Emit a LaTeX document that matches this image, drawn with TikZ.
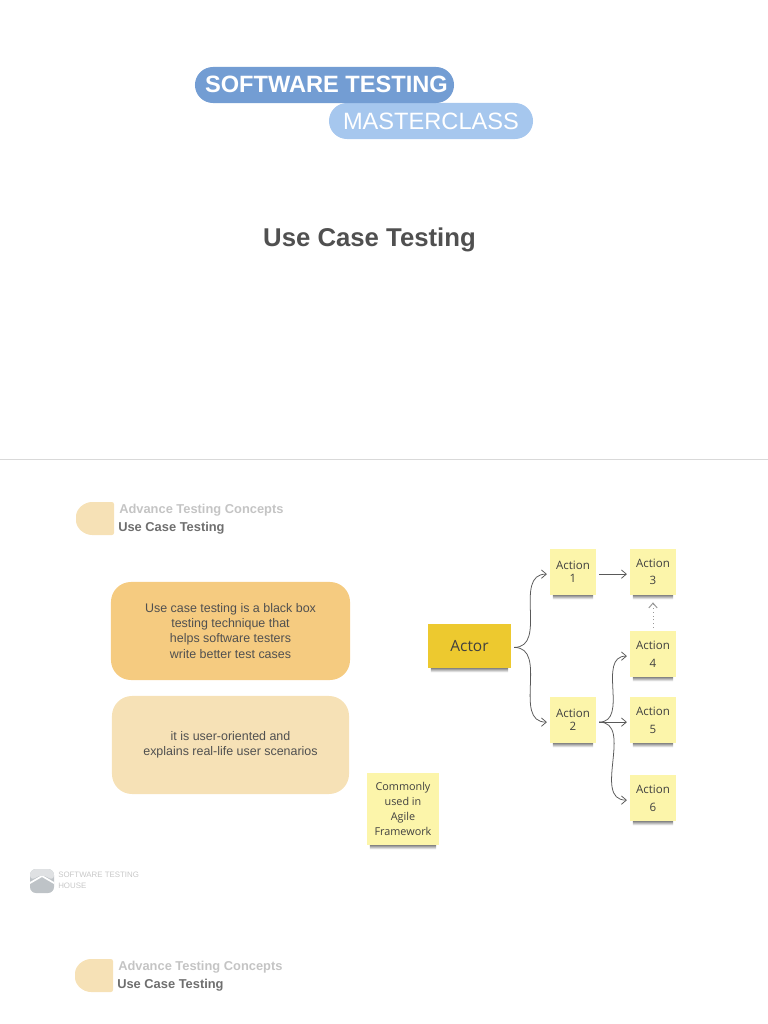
\documentclass[tikz,border=0pt]{standalone}
\usepackage{fontspec}
\setmainfont{Liberation Sans}
\newfontfamily\notefont{Open Sans}
\usetikzlibrary{arrows.meta}
\definecolor{pilldark}{HTML}{739DD3}
\definecolor{pilllight}{HTML}{A6C7EE}
\definecolor{titlegray}{HTML}{505050}
\definecolor{headlight}{HTML}{C4C4C4}
\definecolor{headdark}{HTML}{6E6E6E}
\definecolor{boxdark}{HTML}{F5CB80}
\definecolor{boxlight}{HTML}{F6E1B6}
\definecolor{notepale}{HTML}{FCF5AA}
\definecolor{notegold}{HTML}{EDC92F}
\definecolor{logolight}{HTML}{DFE1E3}
\definecolor{logodark}{HTML}{BEC3C7}
\tikzset{
  pill/.style={rounded corners=0.45cm, minimum height=0.9cm, inner sep=0pt, text=white},
  infobox/.style={rounded corners=0.5cm, minimum height=2.45cm, inner sep=0pt, align=center, text=titlegray, font=\fontsize{8.85}{10.7}\selectfont},
  note/.style={fill=notepale, inner sep=0pt, align=center, text=black!75},
  link/.style={->, >={Straight Barb[length=3.5pt,width=6pt]}, black!65, line width=0.55pt, shorten <=2pt, shorten >=2pt, looseness=1.15},
  headtop/.style={font=\bfseries\fontsize{9.15}{11}\selectfont, text=headlight, anchor=west, inner sep=0pt},
  headsub/.style={font=\bfseries\fontsize{9.15}{11}\selectfont, text=headdark, anchor=west, inner sep=0pt},
  headshape/.style={fill=boxlight, rounded corners=1.5pt},
}
\begin{document}
\begin{tikzpicture}[x=0.025cm, y=-0.025cm]
  \useasboundingbox (0,0) rectangle (768,1024);

  % Title slide
  \node[pill, fill=pilllight, minimum width=5.1cm, font=\fontsize{16.8}{20}\selectfont] (master) at (431,121) {MASTERCLASS};
  \node[pill, fill=pilldark, minimum width=6.475cm, font=\bfseries\fontsize{16.8}{20}\selectfont] (software) at (324.5,85) {\hspace*{2.8pt}\raisebox{0.7pt}{SOFTWARE TESTING}};
  \node[font=\bfseries\fontsize{18.3}{22}\selectfont, text=titlegray] (title) at (369.5,240) {Use Case Testing};

  % Slide separator
  \draw[black!15, line width=0.5pt] (0,459) -- (768,459);

  % Heading of the second slide
  \path[headshape] (114,502) -- (94,502) .. controls (84,502) and (76,509) .. (76,518.5) .. controls (76,528) and (84,535) .. (94,535) -- (114,535) -- cycle;
  \node[headtop] (concepts) at (119,510) {Advance Testing Concepts};
  \node[headsub] (topic) at (118,528) {Use Case Testing};

  % Text boxes
  \node[infobox, fill=boxdark, minimum width=5.975cm] (usecase) at (230.5,631) {Use case testing is a black box\\testing technique that\\helps software testers\\write better test cases};
  \node[infobox, fill=boxlight, minimum width=5.925cm] (useroriented) at (230.5,745) {\raisebox{-0.7pt}{it is user-oriented and}\\\raisebox{-0.7pt}{explains real-life user scenarios}};

  % Sticky notes
  \node[note, fill=notegold, minimum width=2.075cm, minimum height=1.1cm, font=\notefont\fontsize{11}{13}\selectfont] (actor) at (469.5,646) {Actor};
  \node[note, minimum size=1.15cm, font=\notefont\fontsize{8.2}{9.4}\selectfont] (action1) at (573,572) {Action\\1};
  \node[note, minimum size=1.15cm, font=\notefont\fontsize{8.2}{9.4}\selectfont] (action2) at (573,720) {Action\\2};
  \node[note, minimum size=1.15cm, font=\notefont\fontsize{8.2}{12}\selectfont] (action3) at (653,572) {Action\\3};
  \node[note, minimum size=1.15cm, font=\notefont\fontsize{8.2}{12.6}\selectfont] (action4) at (653,654) {Action\\4};
  \node[note, minimum size=1.15cm, font=\notefont\fontsize{8.2}{12.6}\selectfont] (action5) at (653,720) {Action\\5};
  \node[note, minimum size=1.15cm, font=\notefont\fontsize{8.2}{12.6}\selectfont] (action6) at (653,798) {Action\\6};
  \node[note, minimum size=1.8cm, font=\notefont\fontsize{7.7}{10.6}\selectfont] (agile) at (403,809) {Commonly\\used in\\Agile\\Framework};

  % Shadows under the notes
  \foreach \n in {actor,action1,action2,action3,action4,action5,action6,agile}
    \shade[top color=black!45, bottom color=white] ([xshift=2.2pt]\n.south west) rectangle ([xshift=-2.2pt,yshift=-2.8pt]\n.south east);

  % Connectors
  \draw[link] ([yshift=-1pt]actor.east) to[out=0, in=180] ([yshift=-1.5pt]action1.west);
  \draw[link] ([yshift=-1pt]actor.east) to[out=0, in=180] ([yshift=-1.5pt]action2.west);
  \draw[link] ([yshift=-1.5pt]action1.east) -- ([yshift=-1.5pt]action3.west);
  \draw[link] ([yshift=-1.5pt]action2.east) to[out=0, in=180] ([yshift=-1.5pt]action4.west);
  \draw[link] ([yshift=-1.5pt]action2.east) -- ([yshift=-1.5pt]action5.west);
  \draw[link] ([yshift=-1.5pt]action2.east) to[out=0, in=180] ([yshift=-1.5pt]action6.west);
  \draw[link, black!40, line width=0.7pt, dotted, shorten >=5pt] (action4.north) -- (action3.south);

  % Logo
  \fill[logodark, rounded corners=0.15cm] (30,869) rectangle (54,893);
  \fill[white] (30,882) -- (42,875) -- (54,882) -- (54,884) -- (42,877) -- (30,884) -- cycle;
  \fill[logolight, rounded corners=0.15cm] (30,881) -- (30,869) -- (54,869) -- (54,881) -- (42,874) -- cycle;
  \node[anchor=west, inner sep=0pt, font=\fontsize{5.6}{8}\selectfont, text=black!22] (logotext) at (58,875) {SOFTWARE TESTING};
  \node[anchor=west, inner sep=0pt, font=\fontsize{5.6}{8}\selectfont, text=black!22] (logohouse) at (58,886) {HOUSE};

  % Heading of the third slide
  \path[headshape] (113,959) -- (93,959) .. controls (83,959) and (75,966) .. (75,975.5) .. controls (75,985) and (83,992) .. (93,992) -- (113,992) -- cycle;
  \node[headtop] (concepts2) at (118,967) {Advance Testing Concepts};
  \node[headsub] (topic2) at (117,985) {Use Case Testing};
\end{tikzpicture}
\end{document}
